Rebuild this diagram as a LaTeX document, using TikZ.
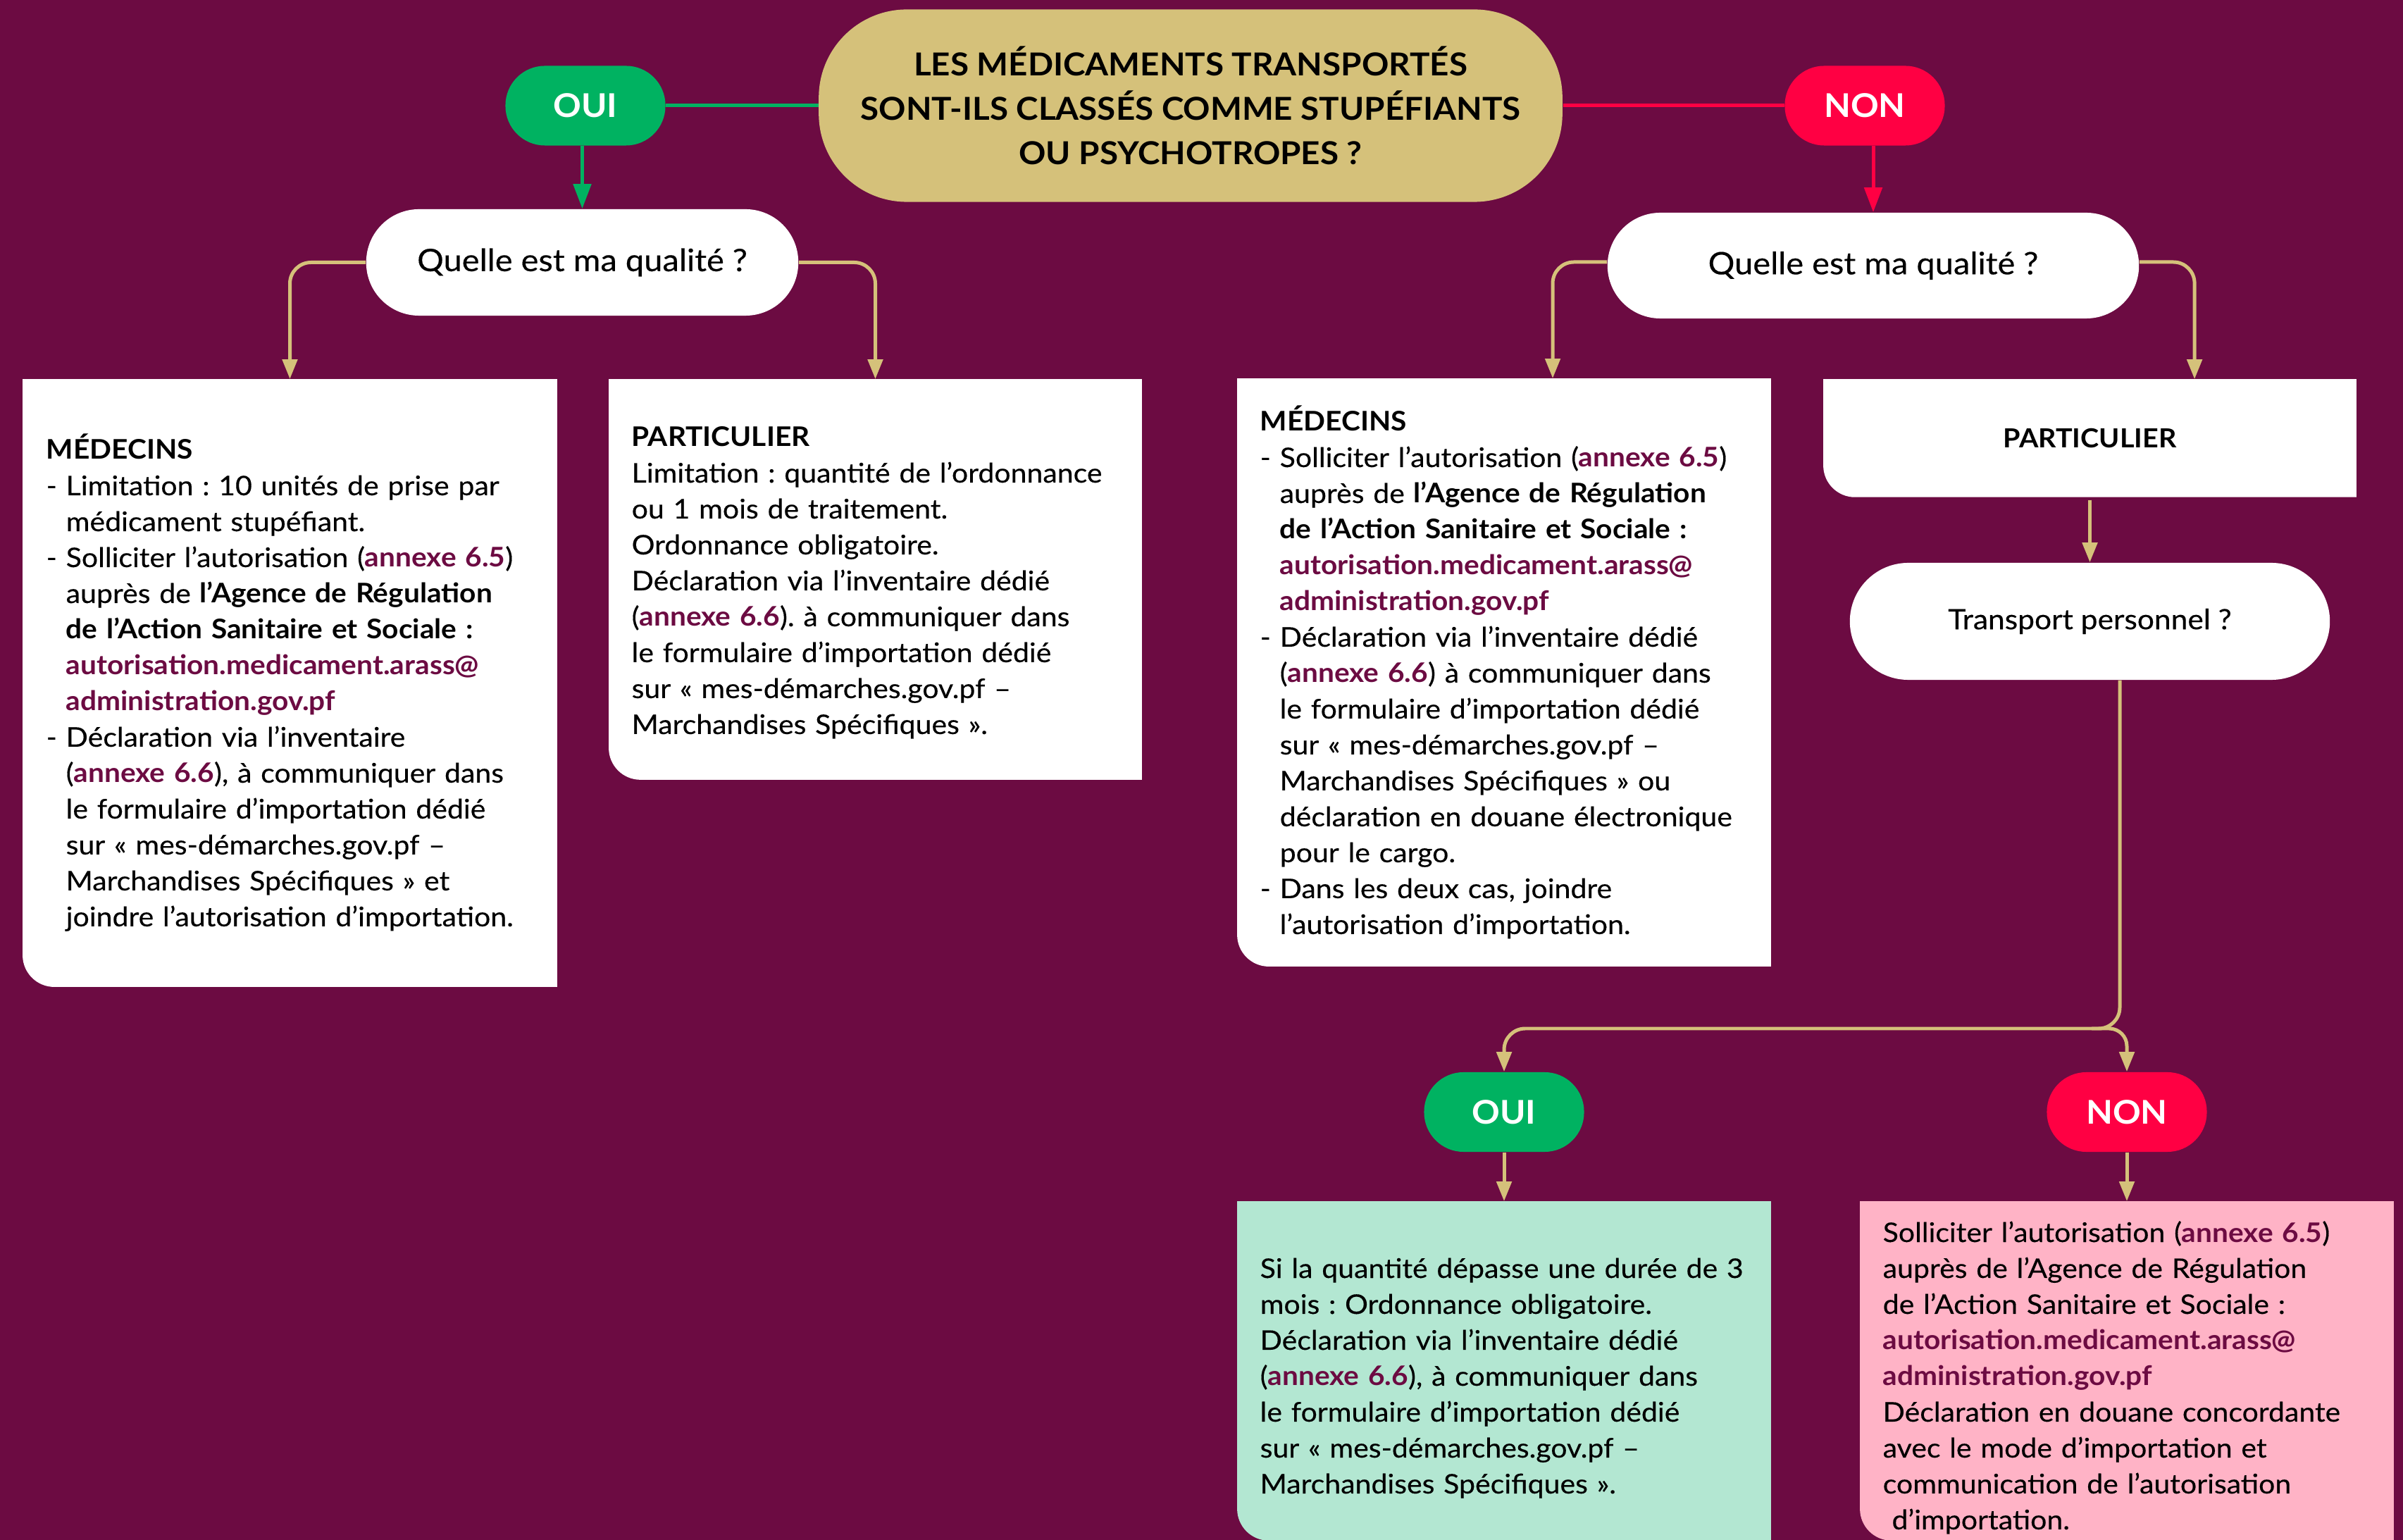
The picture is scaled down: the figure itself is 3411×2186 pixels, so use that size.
\documentclass[tikz,border=0pt]{standalone}
\usepackage{fontspec}
\setmainfont{Lato}[UprightFeatures={FakeStretch=1.07,FakeBold=0.3},BoldFeatures={FakeStretch=1.06}]
\usetikzlibrary{arrows.meta,calc}
\pgfdeclarelayer{bgpage}
\pgfdeclarelayer{boxfill}
\pgfsetlayers{bgpage,boxfill,main}
\definecolor{bgc}{HTML}{6C0B42}
\definecolor{goldc}{HTML}{D5C17A}
\definecolor{greenc}{HTML}{00B261}
\definecolor{redc}{HTML}{FF0043}
\definecolor{mintc}{HTML}{B3E7D2}
\definecolor{pinkc}{HTML}{FFB3C6}
\newcommand\hangsp{\hphantom{- }}
\newcommand\annx[1]{\textbf{\textcolor{bgc}{#1}}}
\begin{document}
\frenchspacing
\begin{tikzpicture}[x=0.01cm,y=0.01cm,
  pill/.style={rectangle, inner sep=0pt, align=center},
  yn/.style={pill, minimum width=2.27cm, minimum height=1.13cm, rounded corners=0.56cm, text=white, font=\bfseries\fontsize{13.2pt}{16pt}\selectfont},
  boxn/.style={rectangle, inner sep=0pt, draw=none},
  body/.style={inner sep=0pt, text width=7.4cm, align=left, anchor=base west, font=\fontsize{10.9pt}{14.5pt}\selectfont},
  gl/.style={draw=goldc, line width=1.42pt, -{Triangle[length=0.28cm,width=0.21cm]}},
  bigarrow/.style={line width=1.42pt, -{Triangle[length=0.35cm,width=0.25cm]}}
]
\begin{pgfonlayer}{bgpage}
\fill[bgc] (0,0) rectangle (3411,-2186);
\end{pgfonlayer}
\useasboundingbox (0,0) rectangle (3411,-2186);

% top question
\node[pill, fill=goldc, minimum width=10.55cm, minimum height=2.73cm, rounded corners=1.25cm, font=\bfseries\fontsize{12.75pt}{18pt}\selectfont] (T) at (1690,-150)
  {LES MÉDICAMENTS TRANSPORTÉS\\SONT-ILS CLASSÉS COMME STUPÉFIANTS\\OU PSYCHOTROPES ?};
\node[yn, fill=greenc] (O1) at (831,-150) {OUI};
\node[yn, fill=redc] (N1) at (2647,-150) {NON};

% quality questions
\node[pill, fill=white, minimum width=6.13cm, minimum height=1.51cm, rounded corners=0.75cm, font=\fontsize{12.5pt}{14pt}\selectfont] (Q1) at (826.5,-372.5) {Quelle est ma qualité ?};
\node[pill, fill=white, minimum width=7.54cm, minimum height=1.5cm, rounded corners=0.75cm, font=\fontsize{12.5pt}{14pt}\selectfont] (Q2) at (2659,-377) {Quelle est ma qualité ?};

% boxes
\node[boxn, minimum width=7.57cm, minimum height=8.61cm] (M1) at (411.5,-969.5) {};
\node[boxn, minimum width=7.55cm, minimum height=5.67cm] (P1) at (1242.5,-822.5) {};
\node[boxn, minimum width=7.56cm, minimum height=8.33cm] (M2) at (2135,-954.5) {};
\node[boxn, minimum width=7.55cm, minimum height=1.66cm, font=\bfseries\fontsize{10.6pt}{14.5pt}\selectfont] (P2) at (2966.5,-622) {PARTICULIER};
\node[pill, fill=white, minimum width=6.81cm, minimum height=1.66cm, rounded corners=0.83cm, font=\fontsize{11.3pt}{14pt}\selectfont] (TR) at (2966.5,-882) {Transport personnel ?};
\node[yn, fill=greenc] (O2) at (2135,-1578.5) {OUI};
\node[yn, fill=redc] (N2) at (3019,-1578.5) {NON};
\node[boxn, minimum width=7.56cm, minimum height=4.8cm] (G) at (2135,-1946) {};
\node[boxn, minimum width=7.56cm, minimum height=4.8cm] (PK) at (3019,-1946) {};

\begin{pgfonlayer}{boxfill}
\foreach \n/\c in {M1/white,P1/white,M2/white,P2/white,G/mintc,PK/pinkc}{
  \fill[\c] (\n.north west) -- (\n.north east) -- (\n.south east) -- ([xshift=0.45cm]\n.south west) arc[start angle=270,end angle=180,radius=0.45cm] -- cycle;}
\end{pgfonlayer}

% texts
\node[body] (M1t) at (65,-652) {\textbf{MÉDECINS}\\
- Limitation : 10 unités de prise par\\
\hangsp médicament stupéfiant.\\
- Solliciter l’autorisation (\annx{annexe 6.5})\\
\hangsp auprès de \textbf{l’Agence de Régulation}\\
\hangsp\textbf{de l’Action Sanitaire et Sociale :}\\
\hangsp\annx{autorisation.medicament.arass@}\\
\hangsp\annx{administration.gov.pf}\\
- Déclaration via l’inventaire\\
\hangsp(\annx{annexe 6.6}), à communiquer dans\\
\hangsp le formulaire d’importation dédié\\
\hangsp sur « mes-démarches.gov.pf –\\
\hangsp Marchandises Spécifiques » et\\
\hangsp joindre l’autorisation d’importation.};

\node[body] (P1t) at (896,-634) {\textbf{PARTICULIER}\\
Limitation : quantité de l’ordonnance\\
ou 1 mois de traitement.\\
Ordonnance obligatoire.\\
Déclaration via l’inventaire dédié\\
(\annx{annexe 6.6}). à communiquer dans\\
le formulaire d’importation dédié\\
sur « mes-démarches.gov.pf –\\
Marchandises Spécifiques ».};

\node[body] (M2t) at (1788,-612) {\textbf{MÉDECINS}\\
- Solliciter l’autorisation (\annx{annexe 6.5})\\
\hangsp auprès de \textbf{l’Agence de Régulation}\\
\hangsp\textbf{de l’Action Sanitaire et Sociale :}\\
\hangsp\annx{autorisation.medicament.arass@}\\
\hangsp\annx{administration.gov.pf}\\
- Déclaration via l’inventaire dédié\\
\hangsp(\annx{annexe 6.6}) à communiquer dans\\
\hangsp le formulaire d’importation dédié\\
\hangsp sur « mes-démarches.gov.pf –\\
\hangsp Marchandises Spécifiques » ou\\
\hangsp déclaration en douane électronique\\
\hangsp pour le cargo.\\
- Dans les deux cas, joindre\\
\hangsp l’autorisation d’importation.};

\node[body] (Gt) at (1788,-1814) {Si la quantité dépasse une durée de 3\\
mois : Ordonnance obligatoire.\\
Déclaration via l’inventaire dédié\\
(\annx{annexe 6.6}), à communiquer dans\\
le formulaire d’importation dédié\\
sur « mes-démarches.gov.pf –\\
Marchandises Spécifiques ».};

\node[body] (PKt) at (2672,-1763) {Solliciter l’autorisation (\annx{annexe 6.5})\\
auprès de l’Agence de Régulation\\
de l’Action Sanitaire et Sociale :\\
\annx{autorisation.medicament.arass@}\\
\annx{administration.gov.pf}\\
Déclaration en douane concordante\\
avec le mode d’importation et\\
communication de l’autorisation\\
\ d’importation.};

% connectors
\draw[line width=1.42pt, greenc] (O1.east) -- (T.west);
\draw[line width=1.42pt, redc] (T.east) -- (N1.west);
\draw[bigarrow, greenc] (O1.south -| Q1.north) -- (Q1.north);
\draw[bigarrow, redc] (N1.south -| Q2.north) -- (Q2.north);

\draw[gl, rounded corners=0.3cm] (Q1.west) -| (M1.north);
\draw[gl, rounded corners=0.3cm] (Q1.east) -| (P1.north);
\draw[gl, rounded corners=0.3cm] ([yshift=0.05cm]Q2.west) -| ([xshift=0.69cm]M2.north);
\draw[gl, rounded corners=0.3cm] ([yshift=0.05cm]Q2.east) -| ([xshift=1.485cm]P2.north);
\draw[gl, shorten <=0.04cm] (P2.south) -- (TR.north);

\coordinate (J) at (3009,-1460);
\draw[gl, rounded corners=0.3cm] ([xshift=0.425cm]TR.south) -- (J) -- (J -| O2.north) -- (O2.north);
\draw[gl, rounded corners=0.25cm] ([xshift=-0.4cm]J) -- (J -| N2.north) -- (N2.north);
\draw[gl] (O2.south) -- (G.north);
\draw[gl] (N2.south) -- (PK.north);
\end{tikzpicture}
\end{document}
